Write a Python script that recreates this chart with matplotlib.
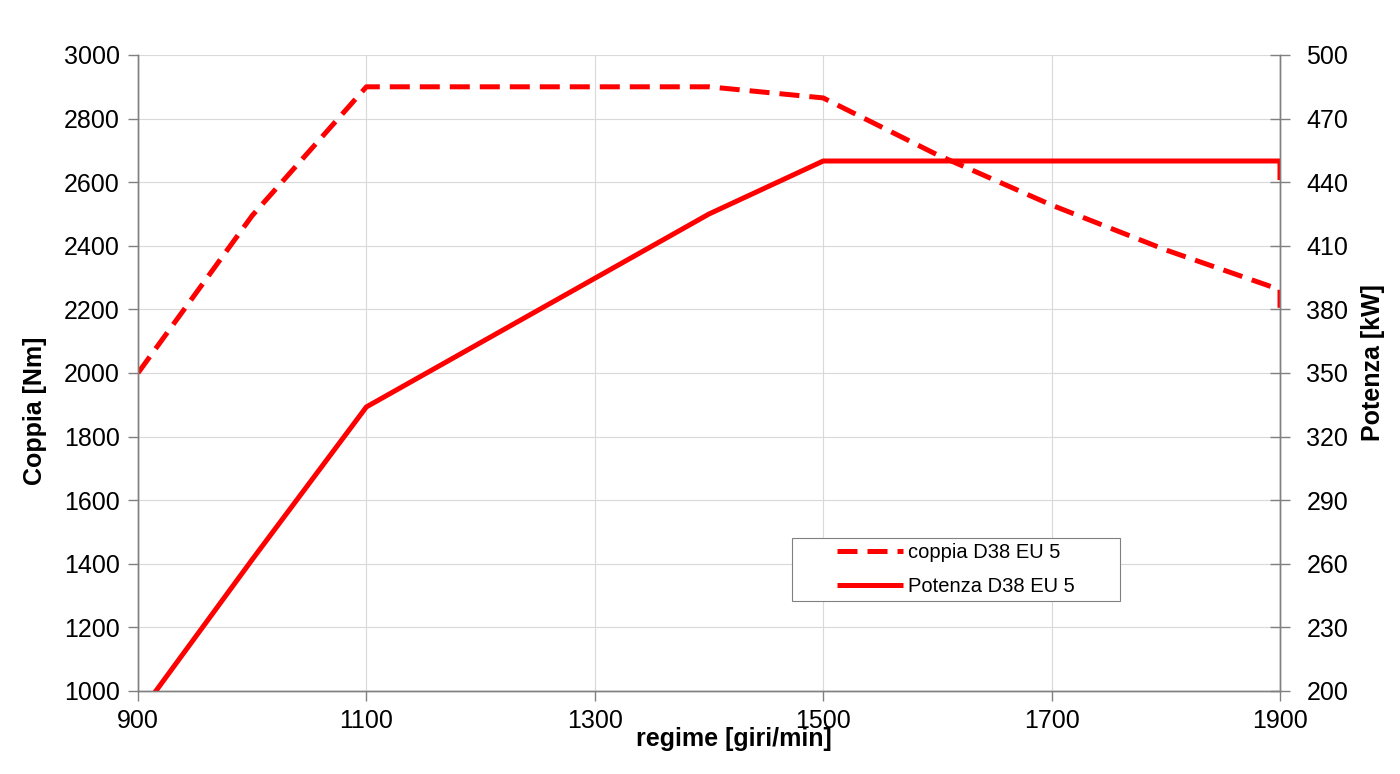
import matplotlib
matplotlib.use('Agg')
import matplotlib.pyplot as plt
from matplotlib.patches import Rectangle

plt.rcParams['font.family'] = ['Liberation Sans', 'DejaVu Sans']

# dati
regime = [900, 1000, 1100, 1400, 1500, 1600, 1700, 1800, 1900, 1900]
coppia = [2000, 2495, 2900, 2900, 2865, 2686, 2528, 2387, 2262, 2205]
potenza = [188.5, 262, 334, 425, 450, 450, 450, 450, 450, 441]

red = '#ff0000'
grey = '#808080'

fig = plt.figure(figsize=(14, 7.74), dpi=100)
ax = fig.add_axes([138/1400, 1-691/774, (1280-138)/1400, (691-55)/774])
ax2 = ax.twinx()

l1, = ax.plot(regime, coppia, color=red, lw=3.6, dashes=(4, 2), label='coppia D38 EU 5')
l2, = ax2.plot(regime, potenza, color=red, lw=3.6, solid_capstyle='butt', label='Potenza D38 EU 5')

ax.set_xlim(900, 1900)
ax.set_ylim(1000, 3000)
ax2.set_ylim(200, 500)
ax.set_xticks(range(900, 1901, 200))
ax.set_yticks(range(1000, 3001, 200))
ax2.set_yticks(range(200, 501, 30))

ax.grid(True, color='#d9d9d9', lw=0.8)
ax.set_axisbelow(True)

for a in (ax, ax2):
    a.spines['top'].set_visible(False)
    for s in ('left', 'right', 'bottom'):
        a.spines[s].set_color(grey)
        a.spines[s].set_linewidth(1.0)
ax.tick_params(axis='both', labelsize=18, color=grey, length=7, width=1, pad=6)
ax2.tick_params(axis='y', labelsize=18, color=grey, direction='inout', length=14, width=1, pad=12)

ax.set_xlabel('regime [giri/min]', fontsize=18, fontweight='bold')
ax.xaxis.set_label_coords(0.522, -0.056)
ax.set_ylabel('Coppia [Nm]', fontsize=18, fontweight='bold')
ax.yaxis.set_label_coords(-0.080, 0.44)
ax2.set_ylabel('Potenza [kW]', fontsize=18, fontweight='bold')
ax2.yaxis.set_label_coords(1.071, 0.517)

# riquadro legenda
ax2.add_patch(Rectangle((0.573, 0.1415), 0.287, 0.099, transform=ax2.transAxes,
                        facecolor='white', edgecolor=grey, lw=0.8, zorder=4))
leg = ax2.legend(handles=[l1, l2], loc='center left', bbox_to_anchor=(0.612, 0.191),
                 fontsize=14.5, frameon=False, handlelength=3.3, borderpad=0,
                 borderaxespad=0, labelspacing=0.7, handletextpad=0.25)
leg.set_zorder(5)

fig.savefig('out.png', dpi=100, facecolor='white')
